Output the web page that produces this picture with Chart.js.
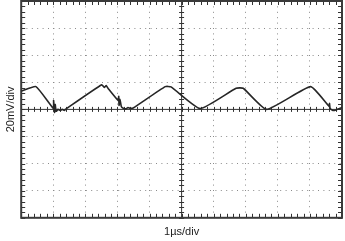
<!DOCTYPE html>
<html>
<head>
<meta charset="utf-8">
<script src="https://cdn.jsdelivr.net/npm/chart.js@4"></script>
<style>
  html, body { margin: 0; padding: 0; background: #fff; }
  #wrap { width: 345px; height: 241px; }
</style>
</head>
<body>
<div id="wrap"><canvas id="scope"></canvas></div>
<script>
// time in divisions (1 µs/div), level in divisions (20 mV/div) from centre
const timeDiv = [0, 0.46, 1.0, 1.01, 1.04, 1.06, 1.09, 1.15, 1.21, 1.28, 1.34, 1.40,
  2.51, 2.59, 2.65, 2.71, 3.02, 3.04, 3.05, 3.08, 3.12, 3.18, 3.27, 3.33, 3.40, 3.49,
  4.49, 4.67, 5.58, 6.70, 6.92, 7.65, 9.02, 9.60, 9.61, 9.63, 9.72, 9.81, 10];
const level = [0.67, 0.84, 0.04, 0.33, -0.11, 0.18, -0.07, 0, -0.04, 0, -0.04, 0.02,
  0.91, 0.81, 0.88, 0.77, 0.33, 0.48, 0.15, 0.37, 0.11, 0.04, 0.02, 0.07, 0.04, 0.05,
  0.84, 0.83, 0.03, 0.78, 0.78, 0.0, 0.84, 0.11, 0.22, 0.04, -0.04, -0.02, 0.07];
const xDivs = [0, 10];
const yDivs = [-4, 4];
const xTitle = '1\u00b5s/div';
const yTitle = '20mV/div';

const points = timeDiv.map((t, i) => ({ x: t, y: level[i] }));

// frame, centre cross and minor ticks, drawn on the chart scales
const scopeFrame = {
  id: 'scopeFrame',
  beforeDatasetsDraw(chart) {
    const { ctx, chartArea: a, scales: { x, y } } = chart;
    const cx = x.getPixelForValue(5);
    const cy = y.getPixelForValue(0);
    ctx.save();
    ctx.strokeStyle = '#333';
    ctx.lineWidth = 1;
    ctx.beginPath();
    ctx.moveTo(a.left, cy); ctx.lineTo(a.right, cy);
    ctx.moveTo(cx, a.top); ctx.lineTo(cx, a.bottom);
    for (let v = xDivs[0]; v <= xDivs[1] + 0.001; v += 0.2) {
      const px = Math.round(x.getPixelForValue(v)) + 0.5;
      ctx.moveTo(px, cy - 2.5); ctx.lineTo(px, cy + 2.5);
      ctx.moveTo(px, a.bottom); ctx.lineTo(px, a.bottom - 4);
      ctx.moveTo(px, a.top); ctx.lineTo(px, a.top + 4);
    }
    for (let v = yDivs[0]; v <= yDivs[1] + 0.001; v += 0.2) {
      const py = Math.round(y.getPixelForValue(v)) + 0.5;
      ctx.moveTo(cx - 2.5, py); ctx.lineTo(cx + 2.5, py);
      ctx.moveTo(a.left, py); ctx.lineTo(a.left + 4, py);
      ctx.moveTo(a.right, py); ctx.lineTo(a.right - 4, py);
    }
    ctx.stroke();
    ctx.lineWidth = 2;
    ctx.strokeStyle = '#3a3a3a';
    ctx.strokeRect(a.left, a.top, a.right - a.left, a.bottom - a.top);
    ctx.restore();
  }
};

const gridColor = (c) => (c.tick.value === 5 || c.tick.value === 0 ? 'rgba(0,0,0,0)' : '#8a8a8a');

new Chart(document.getElementById('scope'), {
  type: 'line',
  data: {
    datasets: [{
      data: points,
      borderColor: '#262626',
      borderWidth: 1.6,
      pointRadius: 0,
      tension: 0.15,
      fill: false
    }]
  },
  options: {
    responsive: true,
    maintainAspectRatio: false,
    animation: false,
    layout: { padding: { top: 1, right: 3, left: 0, bottom: 0 } },
    plugins: { legend: { display: false }, tooltip: { enabled: false } },
    scales: {
      x: {
        type: 'linear',
        min: xDivs[0],
        max: xDivs[1],
        ticks: { display: false, stepSize: 1 },
        grid: {
          drawTicks: false,
          color: (c) => (c.tick.value === 5 || c.tick.value === 0 || c.tick.value === 10 ? 'rgba(0,0,0,0)' : '#8a8a8a')
        },
        border: { display: false, dash: [1, 4.4] },
        title: {
          display: true,
          text: xTitle,
          color: '#222',
          font: { family: 'Liberation Sans, Arial, sans-serif', size: 11 },
          padding: { top: 8, bottom: 2 }
        }
      },
      y: {
        type: 'linear',
        min: yDivs[0],
        max: yDivs[1],
        ticks: { display: false, stepSize: 1 },
        grid: {
          drawTicks: false,
          color: (c) => (c.tick.value === 0 || c.tick.value === -4 || c.tick.value === 4 ? 'rgba(0,0,0,0)' : '#8a8a8a')
        },
        border: { display: false, dash: [1, 4.4] },
        title: {
          display: true,
          text: yTitle,
          color: '#222',
          font: { family: 'Liberation Sans, Arial, sans-serif', size: 11 },
          padding: { top: 4, bottom: 4 }
        }
      }
    }
  },
  plugins: [scopeFrame]
});
</script>
</body>
</html>
